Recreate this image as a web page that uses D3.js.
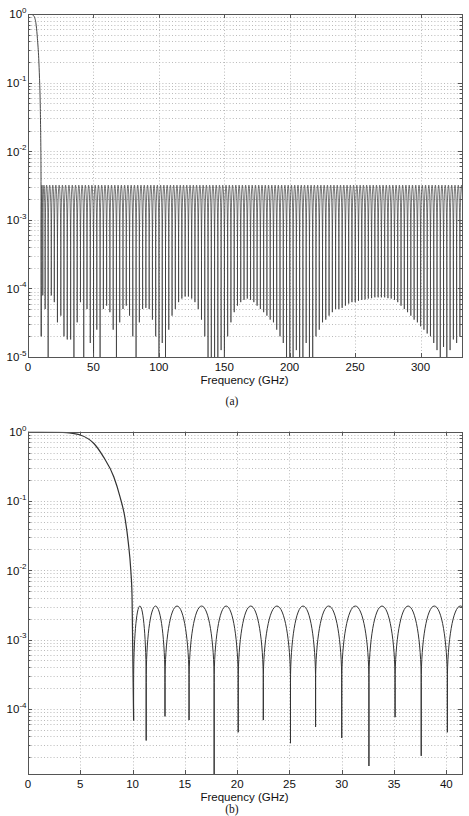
<!DOCTYPE html>
<html>
<head>
<meta charset="utf-8">
<script src="https://cdn.jsdelivr.net/npm/d3@7"></script>
<style>
  body { margin: 0; background: #fff; }
  svg { display: block; }
  .tick-label { font-family: "Liberation Sans", Arial, sans-serif; font-size: 11.5px; fill: #111; }
  .panel-label { font-family: "Liberation Serif", "Times New Roman", serif; font-size: 11.5px; fill: #111; }
</style>
</head>
<body>
<div id="chart"></div>
<script>
/* Data (frequency in GHz, magnitude on a log axis) */

// main lobe, shared by both panels
var mainFreq = [0, 1, 2, 3, 3.7, 5.0, 6.3, 7.2, 8.2, 8.8, 9.3, 9.6, 9.83, 9.95];
var mainMag  = [1, 1, 0.998, 0.989, 0.968, 0.895, 0.676, 0.437, 0.224, 0.115, 0.054, 0.0245, 0.010, 0.0042];

// stopband ripple peak level
var peakA = 3.2e-3;
var peakB = 3.05e-3;

// (b) nulls of the stopband lobes
var nullFreqB = [10.1, 11.3, 13.1, 15.4, 17.8, 20.1, 22.5, 25.1, 27.5, 30.0, 32.6, 35.1, 37.6, 40.1, 42.6];
var nullMagB  = [6.8e-5, 3.5e-5, 7.8e-5, 6.9e-5, 8e-6, 4.6e-5, 6.9e-5, 3.2e-5, 5.5e-5, 3.8e-5, 1.5e-5, 7.6e-5, 2.1e-5, 4.6e-5, 5e-5];

// (a) nulls of the stopband lobes
var nullFreqA = [
  10.1, 11.3, 13.1, 15.4, 17.8, 20.1, 22.5, 25.1, 27.5, 30.0, 32.6, 35.1, 37.6, 40.1,
  42.6, 45.1, 47.6, 50.1, 52.6, 55.1, 57.6, 60.1, 62.6, 65.1, 67.6,
  70.1, 72.6, 75.1, 77.6, 80.1, 82.6, 85.1, 87.6, 90.1, 92.6, 95.1, 97.6, 100.1,
  102.6, 105.1, 107.6, 110.1, 112.6, 115.1, 117.6, 120.1, 122.6, 125.1, 127.6, 130.1, 132.6, 135.1,
  137.6, 140.1, 142.6, 145.1, 147.6, 150.1,
  152.6, 155.1, 157.6, 160.1, 162.6, 165.1, 167.6, 170.1, 172.6, 175.1, 177.6, 180.1, 182.6, 185.1, 187.6, 190.1, 192.6, 195.1, 197.6,
  200.1, 202.6, 205.1, 207.6, 210.1, 212.6, 215.1, 217.6, 220.1,
  222.6, 225.1, 227.6, 230.1, 232.6, 235.1, 237.6, 240.1, 242.6, 245.1, 247.6, 250.1, 252.6, 255.1, 257.6, 260.1,
  262.6, 265.1, 267.6, 270.1, 272.6, 275.1, 277.6, 280.1, 282.6, 285.1, 287.6, 290.1, 292.6, 295.1, 297.6,
  300.1, 302.6, 305.1, 307.6, 310.1, 312.6, 315.1, 317.6, 320.1, 322.6, 325.1, 327.6, 330.1, 332.6
];
var nullMagA = [
  2.0e-5, 7.9e-5, 5.0e-5, 6e-6, 7.9e-5, 6.3e-5, 3.2e-5, 4.0e-5, 2.0e-5, 1.8e-5, 1.8e-5, 6e-6, 3.2e-5, 6.3e-5,
  6e-6, 5.0e-5, 1.6e-5, 6e-6, 2.5e-5, 6e-6, 5.0e-5, 5.6e-5, 4.5e-5, 2.5e-5, 6e-6,
  3.2e-5, 5.0e-5, 5.6e-5, 4.0e-5, 2.0e-5, 6e-6, 3.2e-5, 5.0e-5, 5.2e-5, 5.0e-5, 3.5e-5, 2.0e-5, 6e-6,
  1.6e-5, 6e-6, 2.5e-5, 4.0e-5, 5.0e-5, 6.3e-5, 7.1e-5, 7.6e-5, 7.6e-5, 7.1e-5, 6.3e-5, 5.0e-5, 3.5e-5, 2.0e-5,
  1.0e-5, 6e-6, 6e-6, 6e-6, 1.26e-5, 6e-6,
  2.0e-5, 3.2e-5, 4.5e-5, 5.6e-5, 6.3e-5, 6.8e-5, 7.1e-5, 6.8e-5, 6.3e-5, 5.6e-5, 5.0e-5, 4.5e-5, 4.0e-5, 3.5e-5, 3.2e-5, 2.5e-5, 2.0e-5, 1.6e-5, 1.0e-5,
  6e-6, 6e-6, 1.26e-5, 6e-6, 6e-6, 1.6e-5, 6e-6, 1.0e-5, 2.0e-5,
  2.5e-5, 3.2e-5, 3.5e-5, 4.0e-5, 4.5e-5, 5.0e-5, 5.0e-5, 5.2e-5, 5.6e-5, 6.0e-5, 6.3e-5, 6.3e-5, 6.6e-5, 6.8e-5, 6.9e-5, 7.1e-5,
  7.2e-5, 7.4e-5, 7.4e-5, 7.4e-5, 7.4e-5, 7.2e-5, 7.1e-5, 6.8e-5, 6.3e-5, 5.6e-5, 5.0e-5, 4.5e-5, 4.0e-5, 3.5e-5, 3.2e-5,
  2.8e-5, 2.5e-5, 2.2e-5, 2.0e-5, 1.6e-5, 1.26e-5, 1.0e-5, 1.4e-5, 6e-6, 1.26e-5, 1.8e-5, 1.6e-5, 2.0e-5, 3.0e-5
];

// tick labels
var xTicksA = [0, 50, 100, 150, 200, 250, 300];
var xTicksB = [0, 5, 10, 15, 20, 25, 30, 35, 40];
var decadesA = [0, -1, -2, -3, -4, -5];
var decadesB = [0, -1, -2, -3, -4];
var xTitle = "Frequency (GHz)";

var width = 469, height = 816;

var svg = d3.select("#chart").append("svg")
    .attr("width", width)
    .attr("height", height);

/* custom curve: arches between consecutive nulls, steep walls into the nulls */
function curveLobes(peakY, kneeY) {
    return function(context) {
        var pts;
        return {
            areaStart: function() {},
            areaEnd: function() {},
            lineStart: function() { pts = []; },
            point: function(x, y) { pts.push([x, y]); },
            lineEnd: function() {
                if (!pts.length) return;
                var c = 0.552;
                context.moveTo(pts[0][0], pts[0][1]);
                for (var i = 0; i < pts.length - 1; i++) {
                    var x0 = pts[i][0], y0 = pts[i][1], x1 = pts[i + 1][0], y1 = pts[i + 1][1];
                    var k0 = Math.min(y0, kneeY), k1 = Math.min(y1, kneeY);
                    var xm = (x0 + x1) / 2, w = (x1 - x0) / 2;
                    context.lineTo(x0, k0);
                    context.bezierCurveTo(x0, k0 - (k0 - peakY) * c, xm - w * c, peakY, xm, peakY);
                    context.bezierCurveTo(xm + w * c, peakY, x1, k1 - (k1 - peakY) * c, x1, k1);
                    context.lineTo(x1, y1);
                }
            }
        };
    };
}

function drawPanel(cfg) {
    var x = d3.scaleLinear().domain([0, cfg.xMax]).range([cfg.left, cfg.right]);
    var y = d3.scaleLog().domain([cfg.yMin, 1]).range([cfg.bottom, cfg.top]);
    var g = svg.append("g");

    g.append("clipPath").attr("id", cfg.id + "-clip")
        .append("rect")
        .attr("x", cfg.left).attr("y", cfg.top)
        .attr("width", cfg.right - cfg.left).attr("height", cfg.bottom - cfg.top);

    // minor + major log values inside the domain
    var logVals = [];
    cfg.decades.concat([cfg.decades[cfg.decades.length - 1] - 1]).forEach(function(k) {
        for (var m = 1; m <= 9; m++) {
            var v = m * Math.pow(10, k);
            if (v >= cfg.yMin * 0.999 && v <= 1.0001) logVals.push({ v: v, major: m === 1 });
        }
    });

    /* grid */
    var grid = g.append("g")
        .attr("stroke", "#a8a8a8")
        .attr("stroke-width", 0.8)
        .attr("stroke-dasharray", "1,2.2");
    grid.selectAll(".hg")
        .data(logVals.filter(function(d) { return d.v < 0.9999; }))
        .enter().append("line")
        .attr("x1", cfg.left).attr("x2", cfg.right)
        .attr("y1", function(d) { return Math.round(y(d.v)) + 0.5; })
        .attr("y2", function(d) { return Math.round(y(d.v)) + 0.5; });
    grid.selectAll(".vg")
        .data(cfg.xTicks.filter(function(d) { return d > 0; }))
        .enter().append("line")
        .attr("y1", cfg.top).attr("y2", cfg.bottom)
        .attr("x1", function(d) { return Math.round(x(d)) + 0.5; })
        .attr("x2", function(d) { return Math.round(x(d)) + 0.5; });

    /* curves */
    var plot = g.append("g").attr("clip-path", "url(#" + cfg.id + "-clip)");

    var mainData = mainFreq.map(function(f, i) { return { f: f, m: mainMag[i] }; });
    mainData.push({ f: cfg.nullFreq[0], m: cfg.nullMag[0] });
    var nullData = cfg.nullFreq.map(function(f, i) { return { f: f, m: cfg.nullMag[i] }; });

    var mainLine = d3.line()
        .x(function(d) { return x(d.f); })
        .y(function(d) { return y(Math.max(d.m, 1e-7)); })
        .curve(d3.curveMonotoneX);

    var peakY = y(cfg.peak);
    var kneeY = y(cfg.peak * Math.pow(10, -1.1));
    var lobeLine = d3.line()
        .x(function(d) { return x(d.f); })
        .y(function(d) { return y(Math.max(d.m, 1e-7)); })
        .curve(curveLobes(peakY, kneeY));

    plot.append("path").datum(mainData)
        .attr("d", mainLine)
        .attr("fill", "none").attr("stroke", cfg.color).attr("stroke-width", cfg.lw + 0.2);
    plot.append("path").datum(nullData)
        .attr("d", lobeLine)
        .attr("fill", "none").attr("stroke", cfg.color).attr("stroke-width", cfg.lw);

    /* box */
    g.append("rect")
        .attr("x", cfg.left + 0.5).attr("y", Math.round(cfg.top) + 0.5)
        .attr("width", cfg.right - cfg.left).attr("height", Math.round(cfg.bottom) - Math.round(cfg.top))
        .attr("fill", "none").attr("stroke", "#555").attr("stroke-width", 1);

    /* ticks (inside, on all four sides) */
    var ticks = g.append("g").attr("stroke", "#555").attr("stroke-width", 1);
    cfg.xTicks.forEach(function(t) {
        var xx = Math.round(x(t)) + 0.5;
        ticks.append("line").attr("x1", xx).attr("x2", xx).attr("y1", cfg.bottom).attr("y2", cfg.bottom - 4);
        ticks.append("line").attr("x1", xx).attr("x2", xx).attr("y1", cfg.top).attr("y2", cfg.top + 4);
    });
    logVals.forEach(function(d) {
        var yy = Math.round(y(d.v)) + 0.5;
        var len = d.major ? 4 : 2.5;
        ticks.append("line").attr("x1", cfg.left).attr("x2", cfg.left + len).attr("y1", yy).attr("y2", yy);
        ticks.append("line").attr("x1", cfg.right).attr("x2", cfg.right - len).attr("y1", yy).attr("y2", yy);
    });

    /* tick labels */
    g.selectAll(".xl")
        .data(cfg.xTicks)
        .enter().append("text")
        .attr("class", "tick-label")
        .attr("x", function(d) { return x(d); })
        .attr("y", cfg.bottom + 13.8)
        .attr("text-anchor", "middle")
        .text(function(d) { return d; });

    var yl = g.selectAll(".yl")
        .data(cfg.decades)
        .enter().append("text")
        .attr("class", "tick-label")
        .attr("x", cfg.left - 1.5)
        .attr("y", function(k) { return y(Math.pow(10, k)) + 4.3; })
        .attr("text-anchor", "end");
    yl.append("tspan").text("10");
    yl.append("tspan")
        .attr("dy", -5.5)
        .style("font-size", "8px")
        .text(function(k) { return k === 0 ? "0" : "-" + (-k); });

    /* titles */
    g.append("text")
        .attr("class", "tick-label")
        .attr("x", (cfg.left + cfg.right) / 2 - 0.5)
        .attr("y", cfg.bottom + 26.8)
        .attr("text-anchor", "middle")
        .text(xTitle);
    g.append("text")
        .attr("class", "panel-label")
        .attr("x", (cfg.left + cfg.right) / 2 - 13)
        .attr("y", cfg.labelY)
        .attr("text-anchor", "middle")
        .text(cfg.label);
}

drawPanel({
    id: "pa", top: 14, bottom: 357, left: 28, right: 462,
    xMax: 331.7, yMin: 1e-5, xTicks: xTicksA, decades: decadesA,
    nullFreq: nullFreqA, nullMag: nullMagA, peak: peakA,
    label: "(a)", labelY: 404.5, color: "#262626", lw: 0.65
});
drawPanel({
    id: "pb", top: 431.7, bottom: 774, left: 28, right: 462,
    xMax: 41.5, yMin: 1.15e-5, xTicks: xTicksB, decades: decadesB,
    nullFreq: nullFreqB, nullMag: nullMagB, peak: peakB,
    label: "(b)", labelY: 813, color: "#333", lw: 1
});
</script>
</body>
</html>
